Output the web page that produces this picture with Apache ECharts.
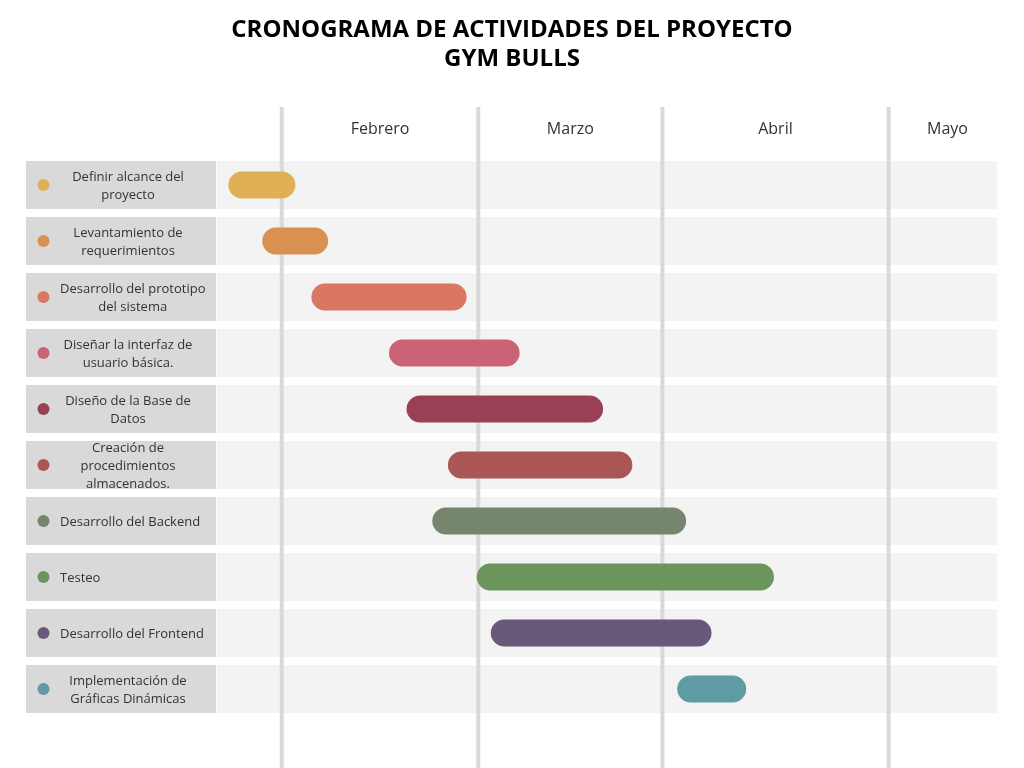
<!DOCTYPE html>
<html>
<head>
<meta charset="utf-8">
<script src="https://cdn.jsdelivr.net/npm/echarts@6/dist/echarts.min.js"></script>
<style>html,body{margin:0;padding:0;background:#fff;}#chart{width:1024px;height:768px;}</style>
</head>
<body>
<div id="chart"></div>
<script>
// ---- data ----
const tasks = [
  'Definir alcance del\nproyecto',
  'Levantamiento de\nrequerimientos',
  'Desarrollo del prototipo\ndel sistema',
  'Diseñar la interfaz de\nusuario básica.',
  'Diseño de la Base de\nDatos',
  'Creación de\nprocedimientos\nalmacenados.',
  'Desarrollo del Backend',
  'Testeo',
  'Desarrollo del Frontend',
  'Implementación de\nGráficas Dinámicas'
];
// timeline position (% of timeline width)
const starts = [1.45, 5.8, 12.1, 22.05, 24.3, 29.6, 27.6, 33.3, 35.1, 59.0];
const ends   = [10.05, 14.25, 32.0, 38.8, 49.5, 53.25, 60.15, 71.4, 63.4, 67.85];
const months = ['Febrero', 'Marzo', 'Abril', 'Mayo'];
const monthBoundaries = [8.3, 33.5, 57.1, 86.1, 101.2];
const taskColors = ['#dfb055', '#d99152', '#d97763', '#ca6375', '#9a4055',
                    '#aa5556', '#76856d', '#6b955b', '#68597b', '#5f9ba3'];

// ---- helpers ----
const FONT = '"Open Sans", "Noto Sans", sans-serif';
const mctx = document.createElement('canvas').getContext('2d');
mctx.font = '13px ' + FONT;
function blockWidth(t) { return Math.max.apply(null, t.split('\n').map(l => mctx.measureText(l).width)); }

const chart = echarts.init(document.getElementById('chart'));
const option = {
  animation: false,
  title: {
    text: 'CRONOGRAMA DE ACTIVIDADES DEL PROYECTO\nGYM BULLS',
    left: 'center', top: 11,
    textStyle: { fontFamily: FONT, fontSize: 24, fontWeight: 'bold', color: '#000', lineHeight: 29, align: 'center' }
  },
  grid: { left: 217, right: 27, top: 157, height: 560 },
  xAxis: { type: 'value', min: 0, max: 100, show: false },
  yAxis: { type: 'category', inverse: true, data: tasks.map((t, i) => i), show: false },
  series: [
    {
      type: 'custom', z: 1, silent: true,
      data: tasks.map((t, i) => [0, i]),
      encode: { x: 0, y: 1 },
      renderItem: function (params, api) {
        const i = api.value(1);
        const c = api.coord([0, i]);
        const cs = params.coordSys;
        const text = tasks[i];
        const multi = text.indexOf('\n') >= 0;
        const tx = multi ? Math.max(128, 60 + blockWidth(text) / 2) : 60;
        return {
          type: 'group',
          children: [
            { type: 'rect', shape: { x: cs.x, y: c[1] - 24, width: cs.width, height: 48 }, style: { fill: '#f3f3f3' } },
            { type: 'rect', shape: { x: 26, y: c[1] - 24, width: 190, height: 48 }, style: { fill: '#d9d9d9' } },
            { type: 'circle', shape: { cx: 43.5, cy: c[1], r: 6 }, style: { fill: taskColors[i] } },
            { type: 'text', x: tx, y: c[1] + 1.5, style: { text: text, font: '13px ' + FONT, fill: '#333', align: multi ? 'center' : 'left', verticalAlign: 'middle', lineHeight: 18 } }
          ]
        };
      }
    },
    {
      type: 'custom', z: 2, silent: true, clip: false,
      data: months.map((m, i) => [monthBoundaries[i], monthBoundaries[i + 1], i]),
      encode: { x: [0, 1] },
      renderItem: function (params, api) {
        const i = api.value(2);
        const x1 = api.coord([api.value(0), 0])[0];
        const x2 = api.coord([api.value(1), 0])[0];
        return {
          type: 'group',
          children: [
            { type: 'line', shape: { x1: x1, y1: 107, x2: x1, y2: 768 }, style: { stroke: '#d9d9d9', lineWidth: 4 } },
            { type: 'text', x: (x1 + x2) / 2, y: 129.5, style: { text: months[i], font: '16px ' + FONT, fill: '#333', align: 'center', verticalAlign: 'middle' } }
          ]
        };
      }
    },
    {
      type: 'custom', z: 3, silent: true,
      data: tasks.map((t, i) => [starts[i], ends[i], i]),
      encode: { x: [0, 1], y: 2 },
      renderItem: function (params, api) {
        const i = api.value(2);
        const s = api.coord([api.value(0), i]);
        const e = api.coord([api.value(1), i]);
        const h = 27;
        return { type: 'rect', shape: { x: s[0], y: s[1] - h / 2, width: e[0] - s[0], height: h, r: h / 2 }, style: { fill: taskColors[i] } };
      }
    }
  ]
};
chart.setOption(option);
</script>
</body>
</html>
